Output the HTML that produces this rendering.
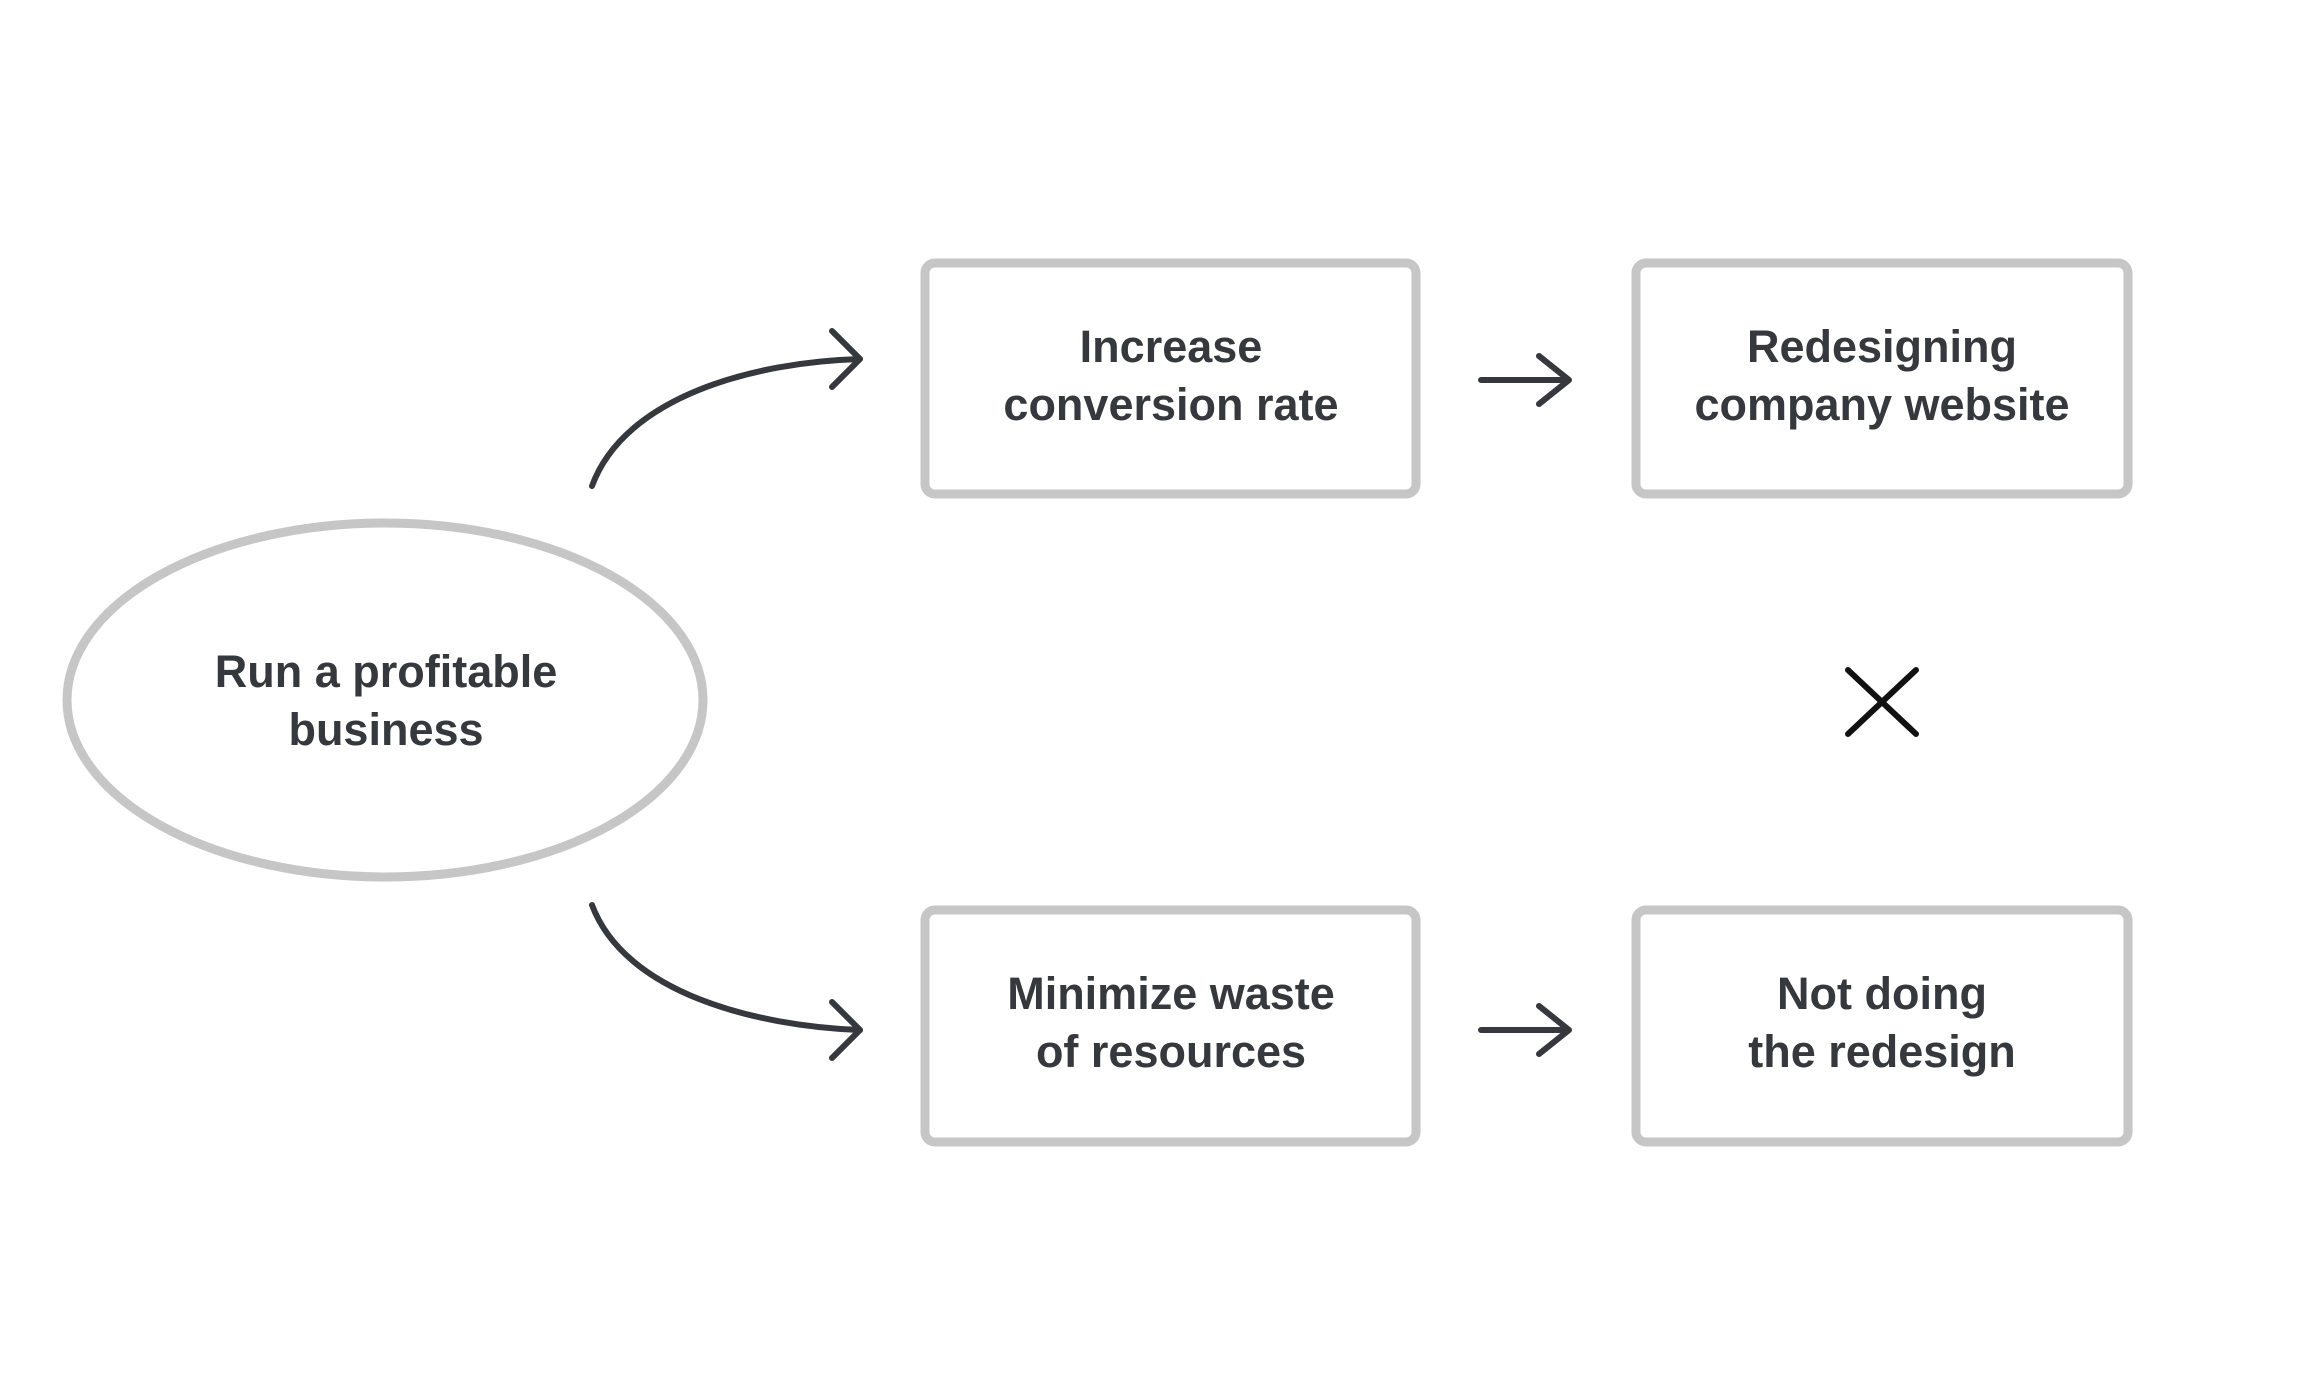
<!DOCTYPE html>
<html><head><style>
html,body{margin:0;padding:0;background:#fff;}
svg{display:block;}
text{font-family:"Liberation Sans",sans-serif;font-weight:bold;font-size:45px;fill:#35383c;text-anchor:middle;}
</style></head><body>
<svg width="2304" height="1400" viewBox="0 0 2304 1400">
<g fill="none" stroke="#c6c6c6" stroke-width="9">
<ellipse cx="385" cy="700" rx="318" ry="177"/>
<rect x="925" y="263" width="491" height="231" rx="10"/>
<rect x="1636" y="263" width="492" height="231" rx="10"/>
<rect x="925" y="910" width="491" height="232" rx="10"/>
<rect x="1636" y="910" width="492" height="232" rx="10"/>
</g>
<g fill="none" stroke="#35383c" stroke-width="6" stroke-linecap="round" stroke-linejoin="round">
<path d="M592,486 C625,396 755,362 860,359"/>
<path d="M832,331 L860,359 L832,387"/>
<path d="M592,905 C625,993 755,1026 860,1030"/>
<path d="M832,1002 L860,1030 L832,1058"/>
<path d="M1481,380 L1569,380 M1539,356 L1569,380 L1539,404"/>
<path d="M1481,1030 L1569,1030 M1539,1006 L1569,1030 L1539,1054"/>
</g>
<path d="M1848,670 L1916,734 M1916,670 L1848,734" stroke="#111" stroke-width="6" stroke-linecap="round"/>
<text x="386" y="687">Run a profitable</text>
<text x="386" y="745">business</text>
<text x="1171" y="362">Increase</text>
<text x="1171" y="420">conversion rate</text>
<text x="1882" y="362">Redesigning</text>
<text x="1882" y="420">company website</text>
<text x="1171" y="1009">Minimize waste</text>
<text x="1171" y="1067">of resources</text>
<text x="1882" y="1009">Not doing</text>
<text x="1882" y="1067">the redesign</text>
</svg>
</body></html>
